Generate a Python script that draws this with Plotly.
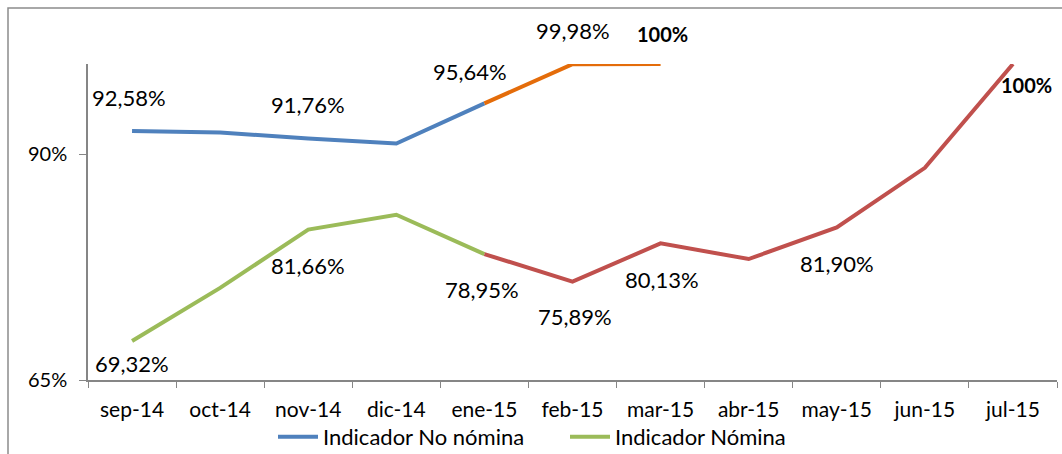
import plotly.graph_objects as go

months = ["sep-14", "oct-14", "nov-14", "dic-14", "ene-15", "feb-15",
          "mar-15", "abr-15", "may-15", "jun-15", "jul-15"]

# Indicador No nómina (blue until ene-15, orange after)
no_nomina = [92.58, 92.4, 91.76, 91.2, 95.64, 99.98, 100.0, None, None, None, None]
# Indicador Nómina (green until ene-15, red after)
nomina = [69.32, 75.2, 81.66, 83.3, 78.95, 75.89, 80.13, 78.4, 81.90, 88.5, 100.0]

split = 4  # ene-15

BLUE = "#4F81BD"
ORANGE = "#E46C0A"
GREEN = "#9BBB59"
RED = "#C0504D"
FONT = "Lato"

fig = go.Figure()


def seg(xs, ys, color, name, show):
    fig.add_trace(go.Scatter(
        x=xs, y=ys, mode="lines", name=name, showlegend=show,
        line=dict(color=color, width=4), hoverinfo="skip"))


seg(months[:split + 1], no_nomina[:split + 1], BLUE, "Indicador No nómina", True)
seg(months[split:7], no_nomina[split:7], ORANGE, "", False)
seg(months[:split + 1], nomina[:split + 1], GREEN, "Indicador Nómina", True)
seg(months[split:], nomina[split:], RED, "", False)


def fmt(v):
    return f"{v:.2f}%".replace(".", ",")


# (series, index, vertical shift, horizontal shift, bold)
labels = [
    (no_nomina, 0, 33, -3, False),
    (no_nomina, 2, 34, 0, False),
    (no_nomina, 4, 32, -14, False),
    (no_nomina, 5, 34, 0, False),
    (no_nomina, 6, 30, 2, True),
    (nomina, 0, -22, 0, False),
    (nomina, 2, -36, 0, False),
    (nomina, 4, -35, -2, False),
    (nomina, 5, -35, 2, False),
    (nomina, 6, -36, 1, False),
    (nomina, 8, -36, 0, False),
    (nomina, 10, -21, 14, True),
]
for series, i, dy, dx, bold in labels:
    v = series[i]
    txt = "<b>100%</b>" if bold else fmt(v)
    fig.add_annotation(x=months[i], y=v, text=txt, showarrow=False,
                       xshift=dx, yshift=dy,
                       font=dict(family=FONT, size=22 if not bold else 20, color="#000000"))

# outer chart border
fig.add_shape(type="rect", xref="paper", yref="paper",
              x0=-80 / 969, x1=1.2, y0=-0.5, y1=(380 - 8) / 316,
              line=dict(color="#8C8C8C", width=1.5), fillcolor="rgba(0,0,0,0)")

fig.update_layout(
    width=1062, height=454,
    margin=dict(l=88, r=5, t=64, b=74, autoexpand=False),
    paper_bgcolor="white", plot_bgcolor="white",
    font=dict(family=FONT, size=21, color="#000000"),
    showlegend=True,
    legend=dict(orientation="h", xref="container", x=273 / 1062, xanchor="left",
                yref="container", y=1 - 437 / 454, yanchor="middle",
                font=dict(family=FONT, size=22), itemwidth=40, entrywidth=237,
                bgcolor="rgba(0,0,0,0)"),
    xaxis=dict(type="category", range=[-0.5, 10.5], showgrid=False, zeroline=False,
               showline=True, linecolor="#868686", linewidth=1.5, automargin=False,
               ticks="outside", ticklen=6, tickcolor="#868686", tickson="boundaries",
               ticklabelstandoff=10, tickfont=dict(family=FONT, size=21)),
    yaxis=dict(range=[65, 100], showgrid=False, zeroline=False,
               showline=True, linecolor="#868686", linewidth=1.5, automargin=False,
               ticks="outside", ticklen=7, tickcolor="#868686",
               tickvals=[65, 90], ticktext=["65%", "90%"], ticklabelstandoff=8,
               tickfont=dict(family=FONT, size=20)),
)

fig.write_html("out.html", config={"displayModeBar": False},
               post_script="document.body.style.margin='0';")
